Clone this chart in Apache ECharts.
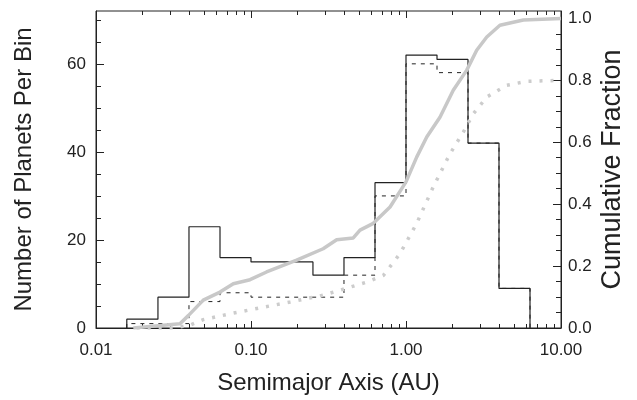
<!DOCTYPE html>
<html>
<head>
<meta charset="utf-8">
<script src="https://cdn.jsdelivr.net/npm/echarts@6/dist/echarts.min.js"></script>
<style>
    html, body { margin: 0; background: #fff; }
    #chart { width: 637px; height: 400px; }
</style>
</head>
<body>
<div id="chart"></div>
<script>
// histogram bin edges (AU), 0.2 dex wide
const binEdges = [0.0158, 0.0251, 0.0398, 0.0631, 0.1, 0.158, 0.251, 0.398, 0.631, 1.0, 1.585, 2.512, 3.981, 6.31];
// planets per bin
const solidCounts = [2, 7, 23, 16, 15, 15, 12, 16, 33, 62, 61, 42, 9];
const dashedCounts = [1, 1, 6, 8, 7, 7, 7, 12, 30, 60, 58, 42, 9];

// cumulative fraction curves
const cumSolidA = [0.0174, 0.0348, 0.0394, 0.0492, 0.0631, 0.0769, 0.0986, 0.126, 0.197, 0.292, 0.357, 0.457, 0.505, 0.615, 0.789, 1.0, 1.172, 1.361, 1.656, 2.018, 2.466, 2.858, 3.319, 4.036, 5.715, 10];
const cumSolidF = [0, 0.014, 0.04, 0.09, 0.116, 0.143, 0.156, 0.181, 0.219, 0.256, 0.285, 0.291, 0.316, 0.338, 0.391, 0.472, 0.552, 0.617, 0.681, 0.768, 0.833, 0.897, 0.94, 0.978, 0.995, 1.0];
const cumDottedA = [0.0183, 0.0316, 0.0404, 0.0492, 0.0733, 0.109, 0.179, 0.292, 0.436, 0.557, 0.715, 0.914, 1.172, 1.5, 1.923, 2.344, 2.716, 3.319, 4.467, 6.01, 10];
const cumDottedF = [0, 0, 0.009, 0.027, 0.046, 0.063, 0.084, 0.106, 0.132, 0.148, 0.17, 0.24, 0.338, 0.456, 0.563, 0.633, 0.692, 0.746, 0.784, 0.797, 0.8];

const leftTicks = [0, 20, 40, 60];
const leftMinor = [5, 10, 15, 25, 30, 35, 45, 50, 55, 65, 70];
const rightTicks = [0, 0.2, 0.4, 0.6, 0.8, 1.0];
const rightMinor = [0.05, 0.1, 0.15, 0.25, 0.3, 0.35, 0.45, 0.5, 0.55, 0.65, 0.7, 0.75, 0.85, 0.9, 0.95];

const FONT = 'Liberation Sans';
const INK = '#222';

function stepPoints(edges, counts) {
    const pts = [[edges[0], 0]];
    counts.forEach((c, i) => pts.push([edges[i], c]));
    pts.push([edges[edges.length - 1], counts[counts.length - 1]]);
    pts.push([edges[edges.length - 1], 0]);
    return pts;
}

// minor log ticks in log10 units
const minorLog = [];
[-2, -1, 0].forEach((d) => {
    for (let k = 2; k <= 9; k++) minorLog.push(d + Math.log10(k));
});

const chart = echarts.init(document.getElementById('chart'));

const tickOnly = (pos, vals, len) => ({
    type: 'value', position: pos, min: -2, max: 1,
    axisLine: {show: false, onZero: false},
    axisTick: {show: true, inside: true, length: len, customValues: vals, lineStyle: {color: INK}},
    axisLabel: {show: false},
    splitLine: {show: false},
});

chart.setOption({
    animation: false,
    grid: {left: 96, right: 76, top: 11, height: 317, show: true, borderColor: INK, borderWidth: 1, outerBoundsMode: 'none'},
    xAxis: [
        {
            type: 'log', logBase: 10, min: 0.01, max: 10, position: 'bottom',
            name: 'Semimajor Axis (AU)', nameLocation: 'middle', nameGap: 43, nameMoveOverlap: false,
            nameTextStyle: {fontFamily: FONT, fontSize: 24, color: INK},
            axisLine: {show: true, onZero: false, lineStyle: {color: INK}},
            axisTick: {show: true, inside: true, length: 7, lineStyle: {color: INK}},
            axisLabel: {fontFamily: FONT, fontSize: 17, color: INK, margin: 14,
                formatter: (v) => Number(v).toFixed(2)},
            splitLine: {show: false},
        },
        tickOnly('bottom', minorLog, 4),
        {
            type: 'log', logBase: 10, min: 0.01, max: 10, position: 'top',
            axisLine: {show: false, onZero: false},
            axisTick: {show: true, inside: true, length: 7, lineStyle: {color: INK}},
            axisLabel: {show: false},
            splitLine: {show: false},
        },
        tickOnly('top', minorLog, 4),
    ],
    yAxis: [
        {
            type: 'value', position: 'left', min: 0, max: 72, interval: 20,
            name: 'Number of Planets Per Bin', nameLocation: 'middle', nameGap: 60, nameMoveOverlap: false,
            nameTextStyle: {fontFamily: FONT, fontSize: 24, color: INK},
            axisLine: {show: true, onZero: false, lineStyle: {color: INK}},
            axisTick: {show: true, inside: true, length: 8, customValues: leftTicks, lineStyle: {color: INK}},
            axisLabel: {fontFamily: FONT, fontSize: 17, color: INK, margin: 10, customValues: leftTicks},
            splitLine: {show: false},
        },
        {
            type: 'value', position: 'right', min: 0, max: 1.024, interval: 0.2,
            name: 'Cumulative Fraction', nameLocation: 'middle', nameGap: 38, nameMoveOverlap: false,
            nameTextStyle: {fontFamily: FONT, fontSize: 27, color: INK},
            axisLine: {show: true, onZero: false, lineStyle: {color: INK}},
            axisTick: {show: true, inside: true, length: 8, customValues: rightTicks, lineStyle: {color: INK}},
            axisLabel: {fontFamily: FONT, fontSize: 17, color: INK, margin: 7, customValues: rightTicks,
                formatter: (v) => Number(v).toFixed(1)},
            splitLine: {show: false},
        },
        {
            type: 'value', position: 'left', min: 0, max: 72,
            axisLine: {show: false, onZero: false},
            axisTick: {show: true, inside: true, length: 5, customValues: leftMinor, lineStyle: {color: INK}},
            axisLabel: {show: false},
            splitLine: {show: false},
        },
        {
            type: 'value', position: 'right', min: 0, max: 1.024,
            axisLine: {show: false, onZero: false},
            axisTick: {show: true, inside: true, length: 5, customValues: rightMinor, lineStyle: {color: INK}},
            axisLabel: {show: false},
            splitLine: {show: false},
        },
    ],
    series: [
        {
            name: 'dashed', type: 'line', step: 'end', xAxisIndex: 0, yAxisIndex: 0,
            data: stepPoints(binEdges, dashedCounts), showSymbol: false,
            lineStyle: {color: INK, width: 1, type: [4, 5]},
        },
        {
            name: 'solid', type: 'line', step: 'end', xAxisIndex: 0, yAxisIndex: 0,
            data: stepPoints(binEdges, solidCounts), showSymbol: false,
            lineStyle: {color: INK, width: 1.2},
        },
        {
            name: 'cum dotted', type: 'line', xAxisIndex: 0, yAxisIndex: 1,
            data: cumDottedA.map((a, i) => [a, cumDottedF[i]]), showSymbol: false,
            lineStyle: {color: '#cccccc', width: 3.5, type: [3, 8]},
        },
        {
            name: 'cum solid', type: 'line', xAxisIndex: 0, yAxisIndex: 1,
            data: cumSolidA.map((a, i) => [a, cumSolidF[i]]), showSymbol: false,
            lineStyle: {color: '#c8c8c8', width: 3.5},
        },
    ],
});
</script>
</body>
</html>
